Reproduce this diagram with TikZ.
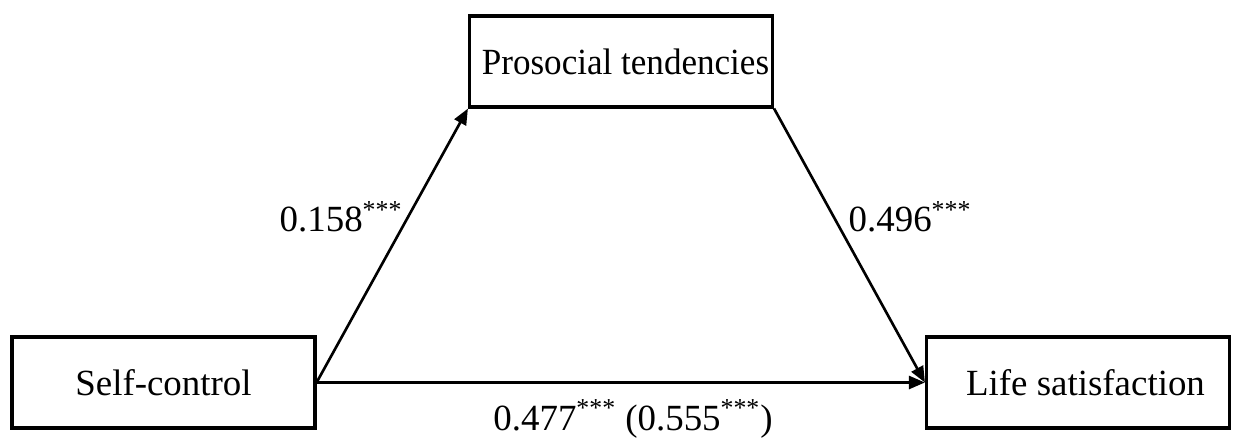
\documentclass[tikz,border=0pt]{standalone}
\usepackage{fontspec}
\setmainfont{Liberation Serif}
\newfontfamily\narrowserif[FakeStretch=0.95]{Liberation Serif}
\usetikzlibrary{arrows.meta, positioning}

\begin{document}
\begin{tikzpicture}[
      var/.style={rectangle, draw=black, line width=1.8pt, fill=white,
                  minimum width=6.06cm, minimum height=1.82cm,
                  font=\fontsize{21}{25}\selectfont, align=center, inner sep=0pt},
      coef/.style={font=\fontsize{21}{25}\selectfont, inner sep=0pt},
      arr/.style={-{Triangle[length=0.32cm, width=0.26cm]}, line width=1.5pt, draw=black}
    ]
    \useasboundingbox (0,0) rectangle (24.66,8.86);
    \node[var] (sc) at (3.27,1.21)  {Self-control};
    \node[var] (pt) at (12.42,7.63) {\hspace*{0.18cm}{\narrowserif Prosocial tendencies}};
    \node[var] (ls) at (21.56,1.21) {\hspace*{0.3cm}Life satisfaction};
    \draw[arr] (sc.east) -- (pt.south west);
    \draw[arr] (pt.south east) -- (ls.west);
    \draw[arr] (sc.east) -- (ls.west);
    \node[coef] (a) at (6.82,4.52)  {0.158\textsuperscript{***}};
    \node[coef] (b) at (18.2,4.52)  {0.496\textsuperscript{***}};
    \node[coef] (c) at (12.66,0.48) {0.477\textsuperscript{***} (0.555\textsuperscript{***})};
  \end{tikzpicture}
\end{document}
